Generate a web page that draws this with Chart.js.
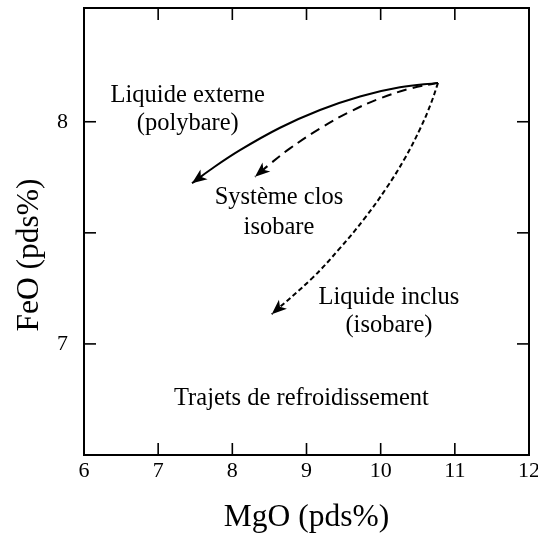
<!DOCTYPE html>
<html>
<head>
<meta charset="utf-8">
<script src="https://cdn.jsdelivr.net/npm/chart.js@4.4.1/dist/chart.umd.min.js"></script>
<style>
  body { margin: 0; background: #fff; }
</style>
</head>
<body>
<canvas id="graphique" width="538" height="535"></canvas>
<script>
const graphique = document.querySelector("#graphique")

// trajets (MgO, FeO en pds%)
const mgo_externe = [10.773, 10.260, 9.721, 9.182, 8.643, 8.103, 7.699, 7.456]
const feo_externe = [8.175, 8.155, 8.114, 8.053, 7.973, 7.872, 7.783, 7.723]

const mgo_clos = [10.773, 10.395, 9.991, 9.586, 9.182, 8.777, 8.508, 8.306]
const feo_clos = [8.175, 8.149, 8.105, 8.045, 7.970, 7.880, 7.810, 7.752]

const mgo_inclus = [10.773, 10.680, 10.537, 10.327, 10.076, 9.783, 9.448, 9.074, 8.531]
const feo_inclus = [8.175, 8.084, 7.972, 7.836, 7.701, 7.565, 7.430, 7.295, 7.134]

const textes = ['Liquide externe', '(polybare)', 'Système clos', 'isobare', 'Liquide inclus', '(isobare)', 'Trajets de refroidissement']
const textes_mgo = [7.399, 7.399, 8.629, 8.629, 10.112, 10.112, 8.932]
const textes_feo = [8.116, 7.99, 7.66, 7.525, 7.209, 7.082, 6.753]

const police = '"Liberation Serif", "Times New Roman", serif'

function points(xs, ys) {
    return xs.map((v, i) => ({x: v, y: ys[i]}))
}

function trait(ctx, x1, y1, x2, y2) {
    ctx.beginPath()
    ctx.moveTo(x1, y1)
    ctx.lineTo(x2, y2)
    ctx.stroke()
}

const cadre = {
    id: 'cadre',
    afterDatasetsDraw(chart) {
        const ctx = chart.ctx
        const {left, right, top, bottom} = chart.chartArea
        const sx = chart.scales.x
        const sy = chart.scales.y
        ctx.save()

        // pointes de fleche
        chart.data.datasets.forEach((ds, i) => {
            const pts = chart.getDatasetMeta(i).data
            const p = pts[pts.length - 1]
            const q = pts[pts.length - 2]
            let ox = p.cp1x, oy = p.cp1y
            if (ox === undefined || (Math.abs(ox - p.x) < 0.5 && Math.abs(oy - p.y) < 0.5)) { ox = q.x; oy = q.y }
            const a = Math.atan2(p.y - oy, p.x - ox)
            const L = 15, W = 6, N = 11
            const c = Math.cos(a), s = Math.sin(a)
            ctx.fillStyle = '#000'
            ctx.beginPath()
            ctx.moveTo(p.x, p.y)
            ctx.lineTo(p.x - L * c - W * s, p.y - L * s + W * c)
            ctx.lineTo(p.x - N * c, p.y - N * s)
            ctx.lineTo(p.x - L * c + W * s, p.y - L * s - W * c)
            ctx.closePath()
            ctx.fill()
        })

        // cadre et graduations vers l'interieur
        ctx.strokeStyle = '#000'
        ctx.lineWidth = 2
        ctx.strokeRect(left, top, right - left, bottom - top)
        ctx.lineWidth = 1.6
        sx.ticks.forEach(t => {
            const px = sx.getPixelForValue(t.value)
            if (px > left + 3 && px < right - 3) {
                trait(ctx, px, bottom, px, bottom - 12)
                trait(ctx, px, top, px, top + 12)
            }
        })
        sy.ticks.forEach(t => {
            const py = sy.getPixelForValue(t.value)
            if (py > top + 3 && py < bottom - 3) {
                trait(ctx, left, py, left + 12, py)
                trait(ctx, right, py, right - 12, py)
            }
        })

        // textes
        ctx.fillStyle = '#000'
        ctx.textAlign = 'center'
        ctx.textBaseline = 'middle'
        ctx.font = '24.5px ' + police
        textes.forEach((t, i) => {
            ctx.fillText(t, sx.getPixelForValue(textes_mgo[i]), sy.getPixelForValue(textes_feo[i]))
        })

        // titre de l'axe vertical
        ctx.font = '31.5px ' + police
        ctx.translate(30, 255)
        ctx.rotate(-Math.PI / 2)
        ctx.fillText('FeO (pds%)', 0, 0)
        ctx.restore()
    }
}

const data = {
    datasets: [
        {
            label: 'Liquide externe',
            data: points(mgo_externe, feo_externe),
            borderColor: '#000',
            borderWidth: 2,
            showLine: true,
            tension: 0.4,
            pointRadius: 0,
        },
        {
            label: 'Système clos',
            data: points(mgo_clos, feo_clos),
            borderColor: '#000',
            borderWidth: 2,
            borderDash: [10, 6],
            showLine: true,
            tension: 0.4,
            pointRadius: 0,
        },
        {
            label: 'Liquide inclus',
            data: points(mgo_inclus, feo_inclus),
            borderColor: '#000',
            borderWidth: 2,
            borderDash: [5, 3],
            showLine: true,
            tension: 0.4,
            pointRadius: 0,
        },
    ]
}

const config = {
    type: 'scatter',
    data: data,
    plugins: [cadre],
    options: {
        responsive: false,
        animation: false,
        layout: { padding: { top: 8, right: 9, left: 0, bottom: 0 } },
        plugins: {
            legend: { display: false },
            tooltip: { enabled: false },
        },
        scales: {
            x: {
                type: 'linear',
                min: 6,
                max: 12,
                ticks: { stepSize: 1, color: '#000', font: { family: police, size: 22 }, padding: 3 },
                grid: { display: false, drawTicks: false },
                border: { display: false },
                title: {
                    display: true,
                    text: 'MgO (pds%)',
                    color: '#000',
                    font: { family: police, size: 31.5, lineHeight: 1.1 },
                    padding: { top: 0, bottom: 0 },
                },
                afterFit: (s) => { s.height = 80; s.paddingLeft = 0; s.paddingRight = 0 },
            },
            y: {
                type: 'linear',
                min: 6.5,
                max: 8.512,
                ticks: {
                    stepSize: 0.5,
                    color: '#000',
                    font: { family: police, size: 22 },
                    padding: 16,
                    callback: (v) => Number.isInteger(v) ? v : '',
                },
                grid: { display: false, drawTicks: false },
                border: { display: false },
                afterFit: (s) => { s.width = 84; s.paddingTop = 0; s.paddingBottom = 0 },
            },
        },
    },
}

const graphiqueTrajets = new Chart(graphique, config)
</script>
</body>
</html>
